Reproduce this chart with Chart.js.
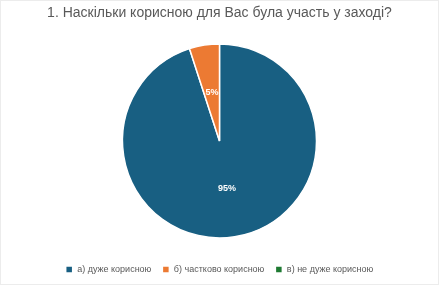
<!DOCTYPE html>
<html>
<head>
<meta charset="utf-8">
<script src="https://cdn.jsdelivr.net/npm/chart.js@4/dist/chart.umd.min.js"></script>
<style>
    html, body { margin: 0; padding: 0; background: #fff; }
    #wrap { position: relative; width: 437px; height: 283px; border: 1px solid #ececec; }
</style>
</head>
<body>
<div id="wrap"><canvas id="chart1"></canvas></div>
<script>
const labels = ['а) дуже корисною', 'б) частково корисною', 'в) не дуже корисною'];
const values = [95, 5, 0];
const colors = ['#185f82', '#ec7a33', '#1e7a32'];

// percentages written inside slices
const sliceLabels = {
    id: 'sliceLabels',
    afterDatasetsDraw(chart) {
        const ctx = chart.ctx;
        const meta = chart.getDatasetMeta(0);
        const total = values.reduce((a, b) => a + b, 0);
        ctx.save();
        ctx.font = 'bold 9px "Liberation Sans", Arial, sans-serif';
        ctx.fillStyle = '#ffffff';
        ctx.textAlign = 'center';
        ctx.textBaseline = 'middle';
        meta.data.forEach((arc, i) => {
            if (!values[i]) return;
            const mid = (arc.startAngle + arc.endAngle) / 2;
            const r = arc.outerRadius * 0.5;
            const x = arc.x + Math.cos(mid) * r;
            const y = arc.y + Math.sin(mid) * r;
            ctx.fillText(Math.round(values[i] / total * 100) + '%', x, y);
        });
        ctx.restore();
    }
};

var ctx = document.getElementById('chart1').getContext('2d');
var myChart = new Chart(ctx, {
    type: 'pie',
    data: {
        labels: labels,
        datasets: [{
            data: values,
            backgroundColor: colors,
            borderColor: '#ffffff',
            borderWidth: 1.5,
            radius: 97
        }]
    },
    options: {
        responsive: true,
        maintainAspectRatio: false,
        animation: false,
        layout: { padding: { top: 0, bottom: 0 } },
        plugins: {
            title: {
                display: true,
                text: '1. Наскільки корисною для Вас була участь у заході?',
                color: '#595959',
                font: { family: '"Liberation Sans", Arial, sans-serif', size: 14, weight: 'normal' },
                padding: { top: 4, bottom: 6 }
            },
            legend: {
                position: 'bottom',
                labels: {
                    color: '#595959',
                    font: { family: '"Liberation Sans", Arial, sans-serif', size: 9 },
                    boxWidth: 7,
                    boxHeight: 7,
                    padding: 11
                }
            },
            tooltip: { enabled: false }
        }
    },
    plugins: [sliceLabels]
});
</script>
</body>
</html>
